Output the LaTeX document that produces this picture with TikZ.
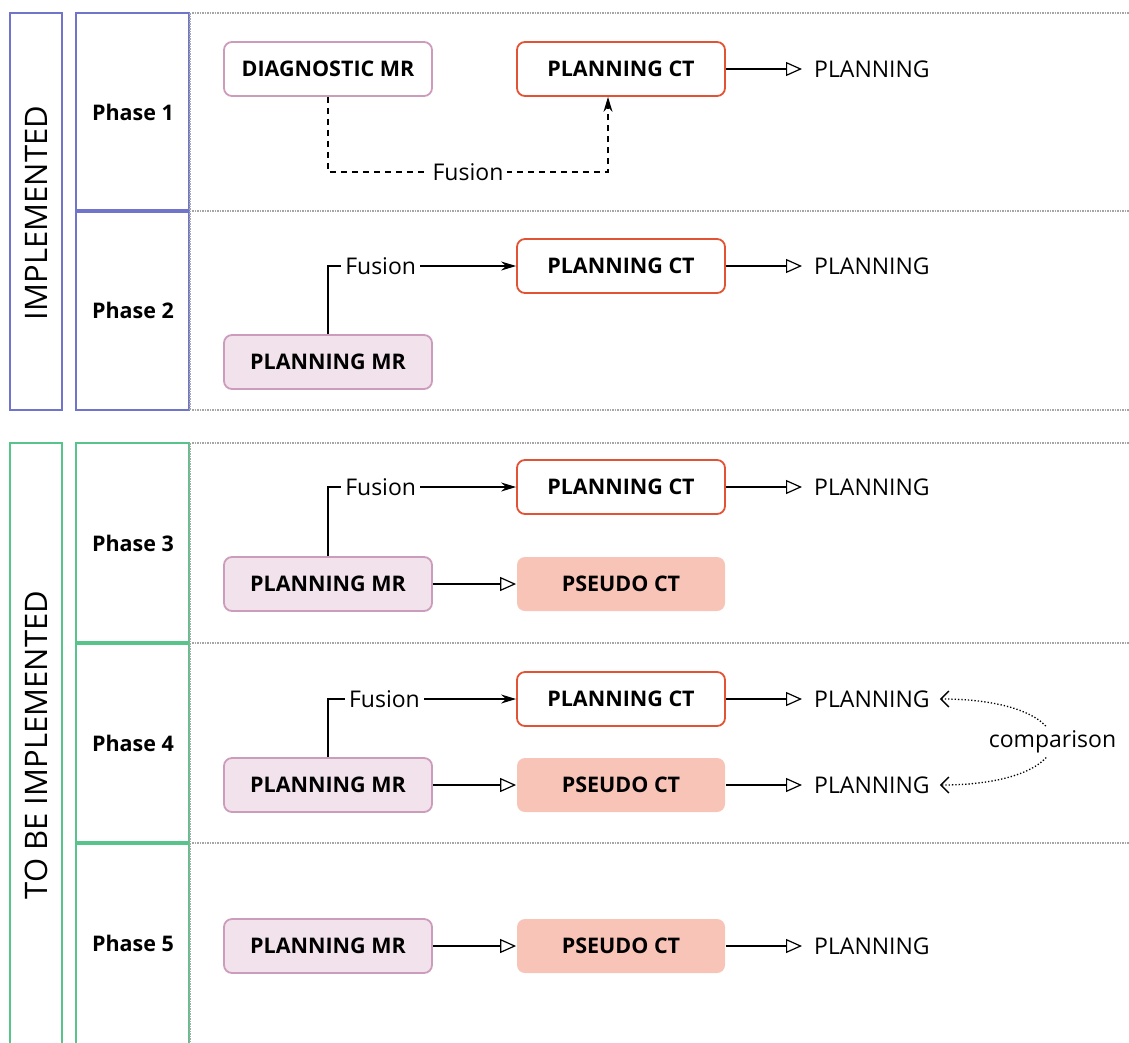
\documentclass[tikz,border=0pt]{standalone}
\usepackage{fontspec}
\setmainfont{Open Sans}
\usetikzlibrary{positioning,arrows.meta}
\definecolor{implblue}{RGB}{112,116,202}
\definecolor{todogreen}{RGB}{88,196,140}
\definecolor{mrdraw}{RGB}{204,156,188}
\definecolor{mrfill}{RGB}{241,226,236}
\definecolor{ctdraw}{RGB}{226,82,52}
\definecolor{pseudofill}{RGB}{249,196,184}
\begin{document}
\begin{tikzpicture}[x=1pt, y=-1pt,
  box/.style = {draw, rounded corners=8pt, line width=1.8pt, minimum width=208pt, minimum height=54pt, font=\fontsize{21.5}{24}\selectfont\bfseries},
  diag/.style = {box, draw=mrdraw, fill=white},
  mr/.style = {box, draw=mrdraw, fill=mrfill},
  ct/.style = {box, draw=ctdraw, fill=white},
  pseudo/.style = {box, draw=none, fill=pseudofill},
  result/.style = {font=\fontsize{23}{26}\selectfont, inner sep=2pt, anchor=west},
  lbl/.style = {font=\fontsize{23}{26}\selectfont, fill=white, inner sep=4pt},
  phase/.style = {font=\fontsize{21.5}{24}\selectfont\bfseries},
  group/.style = {font=\fontsize{31}{34}\selectfont, rotate=90},
  toout/.style = {line width=1.2pt, -{Triangle[open, length=16pt, width=14pt]}},
  fuse/.style = {line width=1.2pt, -{Stealth[length=15pt, width=9pt]}},
  sep/.style = {line width=1.5pt, gray!70, densely dotted}]
\useasboundingbox (0,0) rectangle (1129,1042);

% frames
\draw[implblue, line width=2.5pt] (10,13) rectangle (62,410);
\draw[implblue, line width=2.5pt] (76,13) rectangle (189,410);
\draw[implblue, line width=3.5pt] (76,211) -- (189,211);
\draw[todogreen, line width=2.5pt] (10,1045) -- (10,443) -- (62,443) -- (62,1045);
\draw[todogreen, line width=2.5pt] (76,1045) -- (76,443) -- (189,443) -- (189,1045);
\draw[todogreen, line width=3.5pt] (76,643) -- (189,643);
\draw[todogreen, line width=3.5pt] (76,843) -- (189,843);
\draw[sep] (190,13) -- (190,410);
\draw[sep] (190,443) -- (190,1042);
\foreach \y in {13,211,410,443,643,843}
  \draw[sep] (192,\y) -- (1129,\y);

\node[group] (g1) at (36,213) {IMPLEMENTED};
\node[group] (g2) at (36,745) {TO BE IMPLEMENTED};
\node[phase] (p1) at (133,112) {Phase 1};
\node[phase] (p2) at (133,310) {Phase 2};
\node[phase] (p3) at (133,543) {Phase 3};
\node[phase] (p4) at (133,743) {Phase 4};
\node[phase] (p5) at (133,943) {Phase 5};

% phase 1
\node[diag] (diag) at (328,69) {DIAGNOSTIC MR};
\node[ct] (ct1) at (621,69) {PLANNING CT};
\node[result] (o1) at (812,69) {PLANNING};
\coordinate (f1) at (608,172);
\draw[line width=1.2pt, dash pattern=on 6pt off 5pt, -{Stealth[length=15pt, width=9pt]}]
  (diag.south) |- node[lbl, pos=0.75] {Fusion} (f1) -- (f1 |- ct1.south);
\draw[toout] (ct1) -- ([xshift=-10pt]o1.west);

% phase 2
\node[ct] (ct2) at (621,266) {PLANNING CT};
\node[mr] (mr2) at (328,362) {PLANNING MR};
\node[result] (o2) at (812,266) {PLANNING};
\draw[fuse] (mr2.north) |- node[lbl, pos=0.64] {Fusion} (ct2.west);
\draw[toout] (ct2) -- ([xshift=-10pt]o2.west);

% phase 3
\node[ct] (ct3) at (621,487) {PLANNING CT};
\node[mr] (mr3) at (328,584) {PLANNING MR};
\node[pseudo] (ps3) at (621,584) {PSEUDO CT};
\node[result] (o3) at (812,487) {PLANNING};
\draw[fuse] (mr3.north) |- node[lbl, pos=0.64] {Fusion} (ct3.west);
\draw[toout] (mr3) -- (ps3);
\draw[toout] (ct3) -- ([xshift=-10pt]o3.west);

% phase 4
\node[ct] (ct4) at (621,699) {PLANNING CT};
\node[mr] (mr4) at (328,785) {PLANNING MR};
\node[pseudo] (ps4) at (621,785) {PSEUDO CT};
\node[result] (o4a) at (812,699) {PLANNING};
\node[result] (o4b) at (812,785) {PLANNING};
\draw[fuse] (mr4.north) |- node[lbl, pos=0.65] {Fusion} (ct4.west);
\draw[toout] (mr4) -- (ps4);
\draw[toout] (ct4) -- ([xshift=-10pt]o4a.west);
\draw[toout] (ps4) -- ([xshift=-10pt]o4b.west);
\draw[line width=1.3pt, dotted, {Straight Barb[length=8pt, width=16pt, line width=1.3pt]}-{Straight Barb[length=8pt, width=16pt, line width=1.3pt]}]
  ([xshift=8pt]o4a.east) .. controls (1090,699) and (1090,785) .. node[lbl, midway] {comparison} ([xshift=8pt]o4b.east);

% phase 5
\node[mr] (mr5) at (328,946) {PLANNING MR};
\node[pseudo] (ps5) at (621,946) {PSEUDO CT};
\node[result] (o5) at (812,946) {PLANNING};
\draw[toout] (mr5) -- (ps5);
\draw[toout] (ps5) -- ([xshift=-10pt]o5.west);
\end{tikzpicture}
\end{document}
